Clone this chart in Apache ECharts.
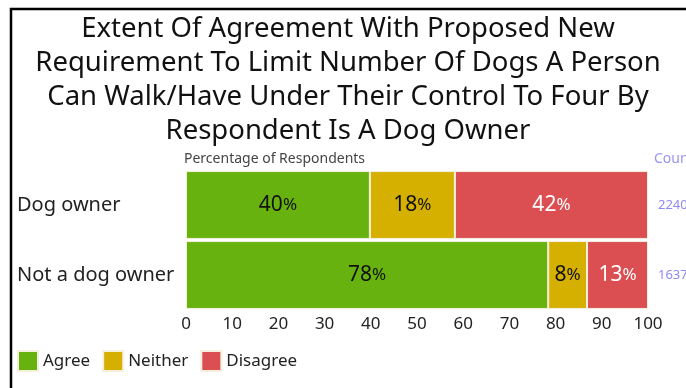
<!DOCTYPE html>
<html>
<head>
<meta charset="utf-8">
<script src="https://cdn.jsdelivr.net/npm/echarts@6/dist/echarts.min.js"></script>
<style>
  html, body { margin: 0; padding: 0; background: #fff; }
  #chart { width: 686px; height: 388px; }
</style>
</head>
<body>
<div id="chart"></div>
<script>
// Respondent groups (top to bottom)
const categories = ['Dog owner', 'Not a dog owner'];
// Share of respondents per answer, percent
const agree    = [39.8, 78.4];
const neither  = [18.4, 8.4];
const disagree = [41.8, 13.2];
// Number of respondents per group
const counts = ['2240', '1637'];
const xTicks = [0, 10, 20, 30, 40, 50, 60, 70, 80, 90, 100];

const FONT = '"Noto Sans", "Open Sans", sans-serif';
const COLORS = { agree: '#67B20E', neither: '#D5B000', disagree: '#DB4F53' };

function pctLabel(textColor) {
  return {
    show: true,
    position: 'inside',
    fontFamily: FONT,
    formatter: p => '{n|' + Math.round(p.value) + '}{p|%}',
    rich: {
      n: { fontSize: 21, color: textColor, fontFamily: FONT },
      p: { fontSize: 17, color: textColor, fontFamily: FONT }
    }
  };
}

function series(name, data, color, textColor) {
  return {
    name: name,
    type: 'bar',
    stack: 'total',
    data: data,
    barCategoryGap: '3%',
    itemStyle: { color: color, borderColor: '#f4f0dc', borderWidth: 1 },
    label: pctLabel(textColor),
    emphasis: { disabled: true }
  };
}

const chart = echarts.init(document.getElementById('chart'));
chart.setOption({
  animation: false,
  backgroundColor: '#fff',
  title: [
    {
      text: 'Extent Of Agreement With Proposed New\nRequirement To Limit Number Of Dogs A Person\nCan Walk/Have Under Their Control To Four By\nRespondent Is A Dog Owner',
      left: 343,
      textAlign: 'center',
      top: 7,
      textStyle: { fontFamily: FONT, fontSize: 27.5, fontWeight: 'normal', color: '#111', lineHeight: 34 }
    },
    {
      text: 'Percentage of Respondents',
      left: 184,
      top: 152,
      padding: 0,
      textStyle: { fontFamily: FONT, fontSize: 14, fontWeight: 'normal', color: '#444' }
    },
    {
      text: 'Count',
      left: 654,
      top: 152,
      padding: 0,
      textStyle: { fontFamily: FONT, fontSize: 14, fontWeight: 'normal', color: '#9a94f2' }
    }
  ],
  graphic: [
    {
      type: 'rect',
      shape: { x: 11, y: 9, width: 1000, height: 1000 },
      style: { fill: 'none', stroke: '#000', lineWidth: 2.5 },
      silent: true
    }
  ],
  legend: {
    left: 17,
    top: 350,
    padding: 0,
    itemWidth: 20,
    itemHeight: 20,
    itemGap: 12,
    icon: 'rect',
    textStyle: { fontFamily: FONT, fontSize: 17, color: '#222' },
    data: ['Agree', 'Neither', 'Disagree']
  },
  grid: { left: 186, right: 38, top: 170, bottom: 78, containLabel: false, outerBoundsMode: 'none' },
  xAxis: {
    type: 'value',
    min: 0,
    max: 100,
    interval: 10,
    axisLine: { show: false },
    axisTick: { show: false },
    splitLine: { show: false },
    axisLabel: {
      fontFamily: FONT, fontSize: 17, color: '#222', margin: 6,
      formatter: v => xTicks.includes(v) ? String(v) : ''
    }
  },
  yAxis: [
    {
      type: 'category',
      data: categories,
      inverse: true,
      axisLine: { show: false },
      axisTick: { show: false },
      axisLabel: { fontFamily: FONT, fontSize: 20, color: '#222', align: 'left', margin: 169 }
    },
    {
      type: 'category',
      data: counts,
      inverse: true,
      position: 'right',
      axisLine: { show: false },
      axisTick: { show: false },
      axisLabel: { fontFamily: FONT, fontSize: 13, color: '#8f8af2', align: 'left', margin: 10 }
    }
  ],
  series: [
    series('Agree', agree, COLORS.agree, '#111'),
    series('Neither', neither, COLORS.neither, '#111'),
    series('Disagree', disagree, COLORS.disagree, '#fff')
  ]
});
</script>
</body>
</html>
